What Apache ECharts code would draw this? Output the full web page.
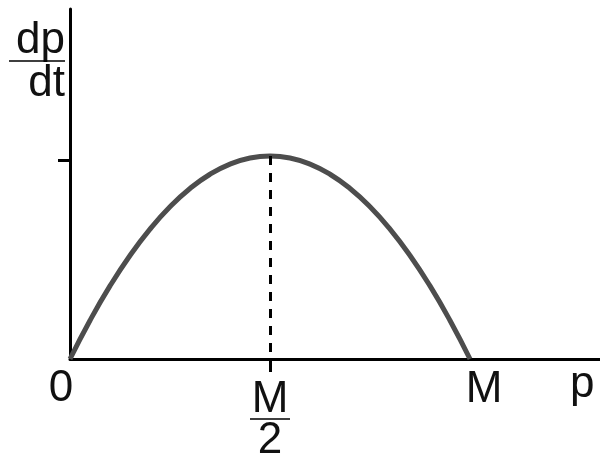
<!DOCTYPE html>
<html>
<head>
<meta charset="utf-8">
<script src="https://cdn.jsdelivr.net/npm/echarts@6/dist/echarts.min.js"></script>
<style>
  html, body { margin: 0; padding: 0; background: #fff; }
  #main { width: 600px; height: 457px; }
</style>
</head>
<body>
<div id="main"></div>
<script>
// p as a fraction of M, and dp/dt as a fraction of its peak value
var pValues = [0, 0.05, 0.1, 0.15, 0.2, 0.25, 0.3, 0.35, 0.4, 0.45, 0.5,
  0.55, 0.6, 0.65, 0.7, 0.75, 0.8, 0.85, 0.9, 0.95, 1];
var rateValues = [0, 0.19, 0.36, 0.51, 0.64, 0.75, 0.84, 0.91, 0.96, 0.99, 1,
  0.99, 0.96, 0.91, 0.84, 0.75, 0.64, 0.51, 0.36, 0.19, 0];
var xTickValues = [0, 0.5, 1];       // 0, M/2, M
var yTickValues = [0.98];            // tick just under the peak
var peakP = 0.5;
var peakRate = 1;

var curveData = pValues.map(function (p, i) { return [p, rateValues[i]]; });

var myChart = echarts.init(document.getElementById('main'));

var font = '"Liberation Sans", Arial, sans-serif';

var option = {
  backgroundColor: '#fff',
  animation: false,
  grid: { left: 70, right: 0, top: 9, bottom: 98, outerBoundsMode: 'none', containLabel: false },
  xAxis: {
    type: 'value',
    min: 0,
    max: 1.325,
    interval: 0.5,
    name: 'p',
    nameLocation: 'end',
    nameGap: -30,
    nameTextStyle: {
      color: '#111', fontFamily: font, fontSize: 44,
      align: 'left', verticalAlign: 'top', padding: [4, 0, 0, 0]
    },
    axisLine: { show: true, lineStyle: { color: '#000', width: 3 } },
    axisTick: {
      show: true, customValues: [peakP], length: 13,
      lineStyle: { color: '#000', width: 3 }
    },
    splitLine: { show: false },
    axisLabel: {
      show: true,
      customValues: xTickValues,
      margin: 8,
      color: '#111',
      fontFamily: font,
      formatter: function (v) {
        if (v === 0) return '{z|0}';
        if (v === 0.5) return '{sp|}\n{h|M}\n{hr|}\n{sp2|}\n{h|2}';
        if (v === 1) return '{m|M}';
        return '';
      },
      rich: {
        z: { fontSize: 44, lineHeight: 44, fontFamily: font, color: '#111', padding: [0, 18, 0, 0] },
        m: { fontSize: 44, lineHeight: 44, fontFamily: font, color: '#111', padding: [2, 0, 0, 28] },
        sp: { height: 14, lineHeight: 14, fontSize: 1 },
        sp2: { height: 3, lineHeight: 3, fontSize: 1 },
        h: { fontSize: 44, lineHeight: 38, fontFamily: font, color: '#111' },
        hr: { width: 40, height: 0, borderColor: '#000', borderWidth: 1.5 }
      }
    }
  },
  yAxis: {
    type: 'value',
    min: 0,
    max: 1.724,
    interval: 1,
    name: '{n|dp}\n{hr|}\n{sp|}\n{n|dt}',
    nameLocation: 'end',
    nameGap: -12,
    nameTextStyle: {
      align: 'right', verticalAlign: 'top', padding: [0, 5, 0, 0],
      rich: {
        n: { fontSize: 44, lineHeight: 40, fontFamily: font, color: '#111' },
        sp: { height: 3, lineHeight: 3, fontSize: 1 },
        hr: { width: 56, height: 0, borderColor: '#000', borderWidth: 1.5 }
      }
    },
    axisLine: { show: true, lineStyle: { color: '#000', width: 3 } },
    axisTick: {
      show: true, customValues: yTickValues, length: 12,
      lineStyle: { color: '#000', width: 3 }
    },
    axisLabel: { show: false },
    splitLine: { show: false }
  },
  series: [
    {
      type: 'line',
      data: curveData,
      smooth: true,
      showSymbol: false,
      silent: true,
      lineStyle: { color: '#4d4d4d', width: 5 },
      markLine: {
        silent: true,
        symbol: 'none',
        label: { show: false },
        lineStyle: { color: '#000', width: 3, type: [9, 8] },
        data: [[{ coord: [peakP, peakRate] }, { coord: [peakP, 0] }]]
      }
    }
  ]
};

myChart.setOption(option);
</script>
</body>
</html>
